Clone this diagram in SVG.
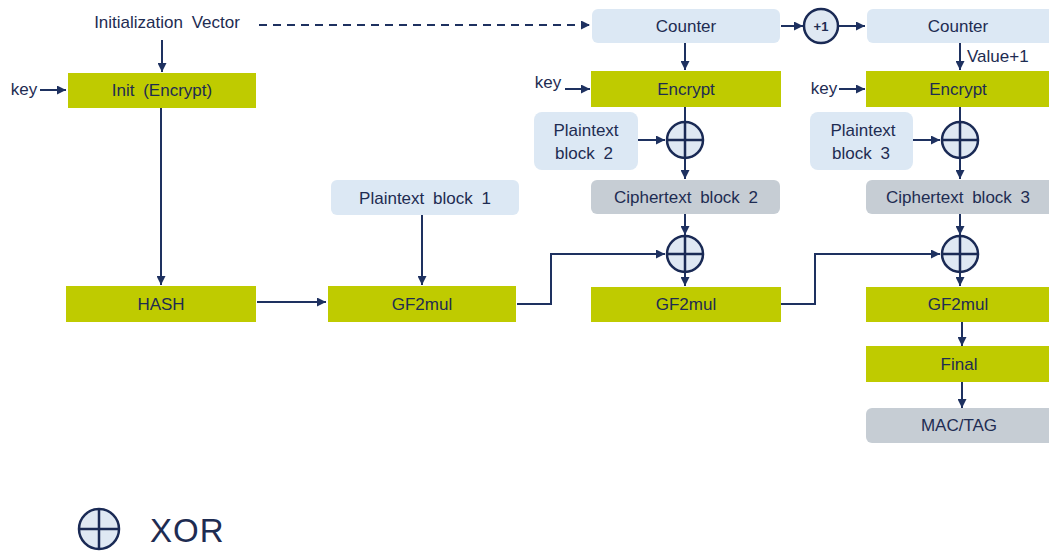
<svg xmlns="http://www.w3.org/2000/svg" width="1049" height="557" viewBox="0 0 1049 557">
<style>
.g{fill:#bfcb00}
.b{fill:#dce8f4}
.c{fill:#c6cdd4}
.t{font-family:"Liberation Sans",Arial,sans-serif;font-size:17px;word-spacing:4px;fill:#1e2c52;text-anchor:middle;dominant-baseline:central}
.l{fill:none;stroke:#1e3160;stroke-width:2}
.x{fill:#dfe8f3;stroke:#1a2a55;stroke-width:2.5}
.xl{stroke:#1a2a55;stroke-width:2.5}
</style>
<defs>
<marker id="a" markerUnits="userSpaceOnUse" markerWidth="9" markerHeight="9" refX="9" refY="4.5" orient="auto">
<path d="M0,0 L9,4.5 L0,9 z" fill="#1e3160"/>
</marker>
<g id="xor">
<circle r="18" class="x"/>
<line x1="-18" y1="0" x2="18" y2="0" class="xl"/>
<line x1="0" y1="-18" x2="0" y2="18" class="xl"/>
</g>
</defs>
<rect width="1049" height="557" fill="#ffffff"/>

<g id="connectors">
<line x1="259" y1="25" x2="590" y2="25" class="l" stroke-dasharray="8,6" marker-end="url(#a)"/>
<line x1="162" y1="40" x2="162" y2="72" class="l" marker-end="url(#a)"/>
<line x1="40" y1="90" x2="66" y2="90" class="l" marker-end="url(#a)"/>
<line x1="161" y1="108" x2="161" y2="285" class="l" marker-end="url(#a)"/>
<line x1="257" y1="302" x2="326" y2="302" class="l" marker-end="url(#a)"/>
<line x1="422" y1="215" x2="422" y2="285" class="l" marker-end="url(#a)"/>
<polyline points="517,304 551,304 551,254 665,254" class="l" marker-end="url(#a)"/>
<polyline points="781,304 815,304 815,254 940,254" class="l" marker-end="url(#a)"/>
<line x1="685" y1="43" x2="685" y2="70" class="l" marker-end="url(#a)"/>
<line x1="565" y1="89" x2="590" y2="89" class="l" marker-end="url(#a)"/>
<line x1="685" y1="107" x2="685" y2="122" class="l"/>
<line x1="638" y1="140" x2="665" y2="140" class="l" marker-end="url(#a)"/>
<line x1="685" y1="158" x2="685" y2="179" class="l" marker-end="url(#a)"/>
<line x1="685" y1="214" x2="685" y2="235" class="l" marker-end="url(#a)"/>
<line x1="685" y1="272" x2="685" y2="286" class="l" marker-end="url(#a)"/>
<line x1="781" y1="26" x2="803" y2="26" class="l" marker-end="url(#a)"/>
<line x1="839" y1="26" x2="865" y2="26" class="l" marker-end="url(#a)"/>
<line x1="960" y1="43" x2="960" y2="70" class="l" marker-end="url(#a)"/>
<line x1="839" y1="89" x2="865" y2="89" class="l" marker-end="url(#a)"/>
<line x1="960" y1="107" x2="960" y2="122" class="l"/>
<line x1="913" y1="140" x2="940" y2="140" class="l" marker-end="url(#a)"/>
<line x1="960" y1="158" x2="960" y2="179" class="l" marker-end="url(#a)"/>
<line x1="960" y1="214" x2="960" y2="235" class="l" marker-end="url(#a)"/>
<line x1="960" y1="272" x2="960" y2="286" class="l" marker-end="url(#a)"/>
<line x1="962" y1="322" x2="962" y2="346" class="l" marker-end="url(#a)"/>
<line x1="962" y1="382" x2="962" y2="408" class="l" marker-end="url(#a)"/>
</g>

<g id="iv"><text x="167" y="22" class="t">Initialization Vector</text></g>
<g id="key1"><text x="24" y="89" class="t">key</text></g>
<g id="init"><rect x="68" y="73" width="188" height="35" class="g"/><text x="162" y="90" class="t">Init (Encrypt)</text></g>
<g id="hash"><rect x="66" y="286" width="190" height="36" class="g"/><text x="161" y="304" class="t">HASH</text></g>
<g id="pt1"><rect x="331" y="180" width="188" height="35" rx="6" class="b"/><text x="425" y="198" class="t">Plaintext block 1</text></g>
<g id="gf1"><rect x="328" y="286" width="188" height="36" class="g"/><text x="422" y="304" class="t">GF2mul</text></g>

<g id="counter2"><rect x="592" y="9" width="188" height="34" rx="6" class="b"/><text x="686" y="26" class="t">Counter</text></g>
<g id="key2"><text x="548" y="82" class="t">key</text></g>
<g id="enc2"><rect x="591" y="71" width="190" height="36" class="g"/><text x="686" y="89" class="t">Encrypt</text></g>
<g id="pt2"><rect x="534" y="112" width="104" height="58" rx="8" class="b"/><text x="586" y="130" class="t">Plaintext</text><text x="584" y="153" class="t">block 2</text></g>
<g id="xor2a"><use href="#xor" x="685" y="140"/></g>
<g id="ct2"><rect x="591" y="180" width="189" height="34" rx="6" class="c"/><text x="686" y="197" class="t">Ciphertext block 2</text></g>
<g id="xor2b"><use href="#xor" x="685" y="254"/></g>
<g id="gf2"><rect x="591" y="287" width="190" height="35" class="g"/><text x="686" y="304" class="t">GF2mul</text></g>

<g id="inc"><circle cx="821" cy="26" r="17" class="x"/><text x="821" y="26" class="t" style="font-size:13px;font-weight:bold">+1</text></g>

<g id="counter3"><rect x="867" y="9" width="190" height="34" rx="6" class="b"/><text x="958" y="26" class="t">Counter</text></g>
<g id="val"><text x="967" y="56" class="t" style="text-anchor:start">Value+1</text></g>
<g id="key3"><text x="824" y="88" class="t">key</text></g>
<g id="enc3"><rect x="866" y="71" width="190" height="36" class="g"/><text x="958" y="89" class="t">Encrypt</text></g>
<g id="pt3"><rect x="810" y="112" width="103" height="58" rx="8" class="b"/><text x="863" y="130" class="t">Plaintext</text><text x="861" y="153" class="t">block 3</text></g>
<g id="xor3a"><use href="#xor" x="960" y="140"/></g>
<g id="ct3"><rect x="866" y="180" width="192" height="34" rx="6" class="c"/><text x="958" y="197" class="t">Ciphertext block 3</text></g>
<g id="xor3b"><use href="#xor" x="960" y="254"/></g>
<g id="gf3"><rect x="866" y="287" width="190" height="35" class="g"/><text x="958" y="304" class="t">GF2mul</text></g>
<g id="final"><rect x="866" y="346" width="190" height="36" class="g"/><text x="959" y="364" class="t">Final</text></g>
<g id="mac"><rect x="866" y="408" width="192" height="35" rx="6" class="c"/><text x="959" y="425" class="t">MAC/TAG</text></g>

<g id="legend"><circle cx="99" cy="529" r="20" class="x"/><line x1="79" y1="529" x2="119" y2="529" class="xl"/><line x1="99" y1="509" x2="99" y2="549" class="xl"/><text x="150" y="530" class="t" style="font-size:33px;letter-spacing:1px;text-anchor:start">XOR</text></g>
</svg>
